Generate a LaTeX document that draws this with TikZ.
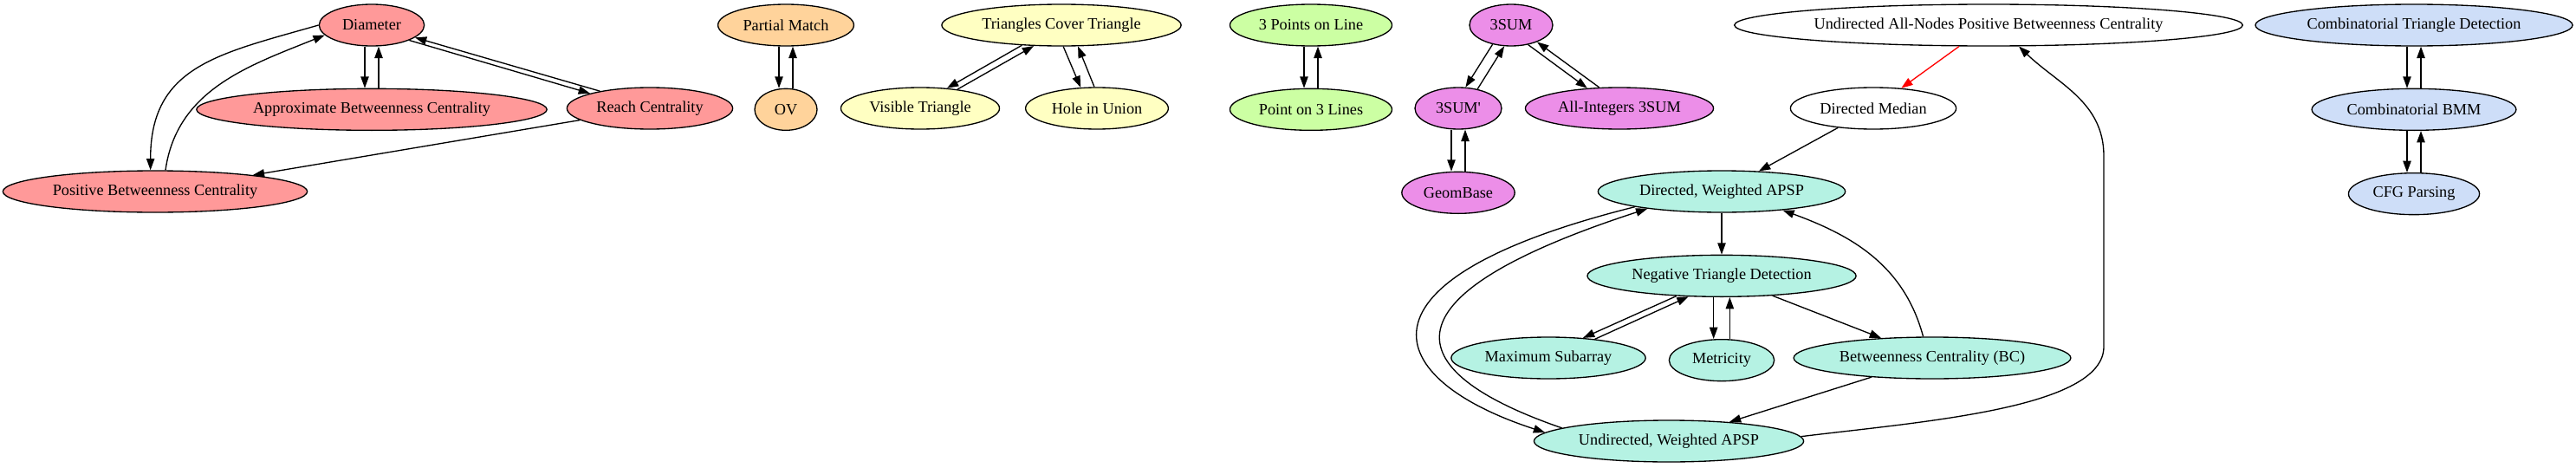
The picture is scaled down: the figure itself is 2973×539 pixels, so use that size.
\documentclass[tikz,border=0pt]{standalone}
\usepackage{fontspec}
\setmainfont{Liberation Serif}
\usetikzlibrary{arrows.meta,positioning,shapes.geometric}

\definecolor{pinkfill}{HTML}{FF9999}
\definecolor{peachfill}{HTML}{FFD39B}
\definecolor{lemonfill}{HTML}{FFFFC2}
\definecolor{limefill}{HTML}{CCFFA3}
\definecolor{orchidfill}{HTML}{EC8EE8}
\definecolor{mintfill}{HTML}{B5F2E3}
\definecolor{skyfill}{HTML}{CEDEF8}

\begin{document}
\begin{tikzpicture}[
  x=0.75pt, y=-0.75pt,
  flow/.style={-{Triangle[length=10pt,width=7pt]}, line width=1pt},
  redflow/.style={flow, red},
  prob/.style={
    ellipse, draw, line width=1pt, inner xsep=4.5pt, inner ysep=3pt,
    minimum width=54pt, minimum height=36pt,
    font=\fontsize{13.7}{16}\selectfont
  },
  pink/.style={prob, fill=pinkfill},
  peach/.style={prob, fill=peachfill},
  lemon/.style={prob, fill=lemonfill},
  lime/.style={prob, fill=limefill},
  orchid/.style={prob, fill=orchidfill},
  mint/.style={prob, fill=mintfill},
  sky/.style={prob, fill=skyfill},
  plain/.style={prob, fill=white}
]
\useasboundingbox (0,0) rectangle (2973,539);

% Diameter cluster
\node[pink, minimum width=91pt] (diam) at (429,29) {Diameter};
\node[pink, below=36pt of diam] (abc) {Approximate Betweenness Centrality};
\node[pink] (reach) at (750,125) {Reach Centrality};
\node[pink] (pbc) at (179,221) {Positive Betweenness Centrality};

\draw[flow] ([xshift=-6pt]diam.south) -- ([xshift=-6pt]abc.north);
\draw[flow] ([xshift=6pt]abc.north) -- ([xshift=6pt]diam.south);
\draw[flow] (diam.-22) -- (reach.166);
\draw[flow] (reach.161) -- (diam.-16);
\draw[flow] (diam.180) to[out=196, in=90, looseness=1.2] ([xshift=-4pt]pbc.north);
\draw[flow] ([xshift=9pt]pbc.north) to[out=82, in=202] (diam.192);
\draw[flow] (reach) -- (pbc);

% OV
\node[peach] (pm) at (907,29) {Partial Match};
\node[peach, below=36pt of pm] (ov) {OV};

\draw[flow] ([xshift=-6pt]pm.south) -- ([xshift=-6pt]ov.north);
\draw[flow] ([xshift=6pt]ov.north) -- ([xshift=6pt]pm.south);

% Triangles
\node[lemon] (tct) at (1225,29) {Triangles Cover Triangle};
\node[lemon] (vis) at (1062,125) {Visible Triangle};
\node[lemon] (hole) at (1266,125) {Hole in Union};

\draw[flow] (tct.207) -- (vis.37);
\draw[flow] (vis.27) -- (tct.217);
\draw[flow] (tct.275) -- (hole.128);
\draw[flow] (hole.97) -- (tct.308);

% Points and lines
\node[lime] (tpl) at (1513,29) {3 Points on Line};
\node[lime, below=36pt of tpl] (pol) {Point on 3 Lines};

\draw[flow] ([xshift=-6pt]tpl.south) -- ([xshift=-6pt]pol.north);
\draw[flow] ([xshift=6pt]pol.north) -- ([xshift=6pt]tpl.south);

% 3SUM
\node[orchid, minimum width=72pt] (sum) at (1744,29) {3SUM};
\node[orchid, minimum width=75pt] (sump) at (1683,125) {3SUM\textquotesingle};
\node[orchid] (allint) at (1869,125) {All-Integers 3SUM};
\node[orchid, below=36pt of sump] (geom) {GeomBase};

\draw[flow] (sum.226) -- (sump.71);
\draw[flow] (sump.45) -- (sum.252);
\draw[flow] (sum.311) -- (allint.148);
\draw[flow] (allint.134) -- (sum.327);
\draw[flow] ([xshift=-6pt]sump.south) -- ([xshift=-6pt]geom.north);
\draw[flow] ([xshift=6pt]geom.north) -- ([xshift=6pt]sump.south);

% APSP
\node[plain] (uan) at (2295,29) {Undirected All-Nodes Positive Betweenness Centrality};
\node[plain] (dmed) at (2162,125) {Directed Median};
\node[mint] (dw) at (1987,221) {Directed, Weighted APSP};
\node[mint, below=36pt of dw] (ntd) {Negative Triangle Detection};
\node[mint] (msub) at (1787,413) {Maximum Subarray};
\node[mint, below=36pt of ntd, minimum width=91pt] (metr) {Metricity};
\node[mint] (bc) at (2230,413) {Betweenness Centrality (BC)};
\node[mint] (uw) at (1926,509) {Undirected, Weighted APSP};

\draw[redflow] (uan) -- (dmed);
\draw[flow] (dmed) -- (dw);
\draw[flow] (dw) -- (ntd);
\draw[flow] (ntd.204) -- (msub.30);
\draw[flow] (msub.22) -- (ntd.212);
\draw[flow] ([xshift=-7pt]ntd.south) -- ([xshift=-7pt]metr.north);
\draw[flow] ([xshift=7pt]metr.north) -- ([xshift=7pt]ntd.south);
\draw[flow] (ntd) -- (bc);
\draw[flow] (bc.113) to[out=105, in=-20] (dw.-17);
\draw[flow] (bc) -- (uw);
\draw[flow] (dw.190) to[out=194, in=162, out looseness=3.2, in looseness=1.8] (uw.176);
\draw[flow] (uw.173) to[out=161, in=198, out looseness=1.8, in looseness=3.2] (dw.193);

% return to all-nodes betweenness
\coordinate (retlow) at (2428,400);
\coordinate (rethigh) at (2428,180);
\draw[flow] (uw.2) to[out=7, in=-90, in looseness=0.5] (retlow) -- (rethigh)
  to[out=90, in=-44] (uan.-35);

% BMM
\node[sky] (ctd) at (2786,29) {Combinatorial Triangle Detection};
\node[sky, below=36pt of ctd] (bmm) {Combinatorial BMM};
\node[sky, below=36pt of bmm] (cfg) {CFG Parsing};

\draw[flow] ([xshift=-6pt]ctd.south) -- ([xshift=-6pt]bmm.north);
\draw[flow] ([xshift=6pt]bmm.north) -- ([xshift=6pt]ctd.south);
\draw[flow] ([xshift=-6pt]bmm.south) -- ([xshift=-6pt]cfg.north);
\draw[flow] ([xshift=6pt]cfg.north) -- ([xshift=6pt]bmm.south);

\end{tikzpicture}
\end{document}
